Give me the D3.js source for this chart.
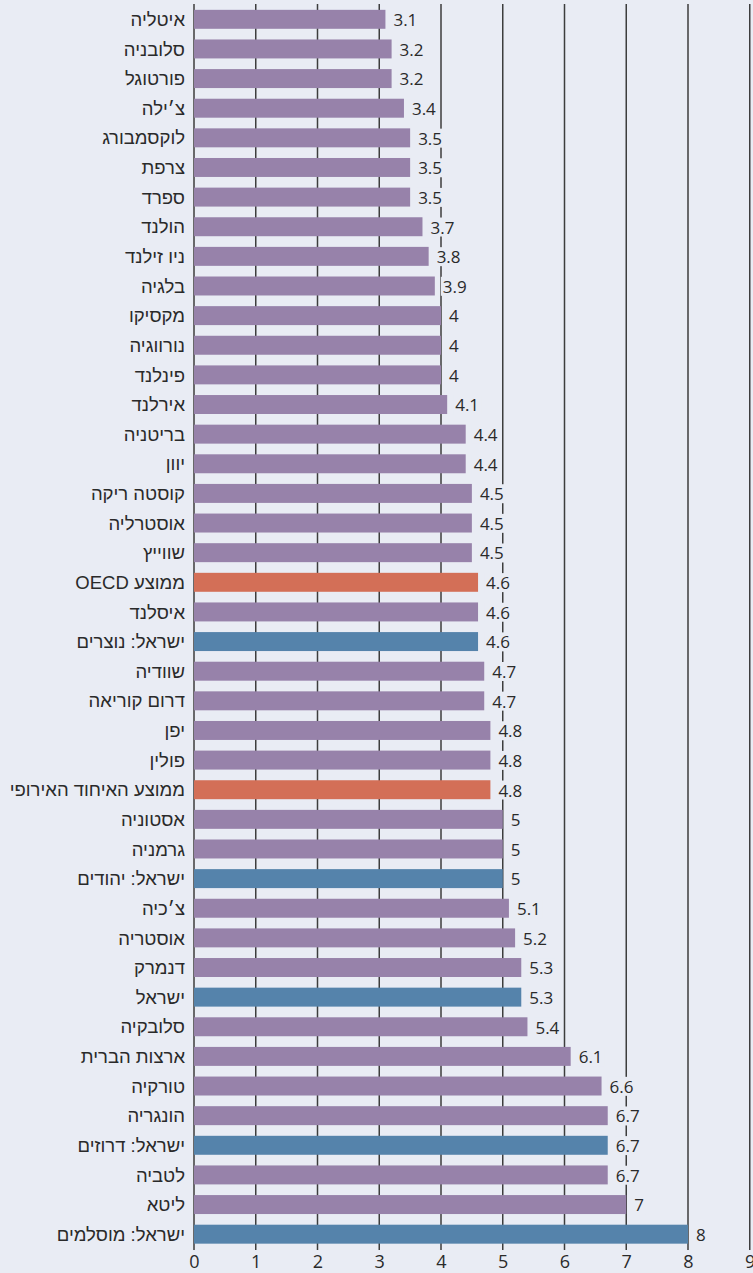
<!DOCTYPE html>
<html>
<head>
<meta charset="utf-8">
<script src="https://cdn.jsdelivr.net/npm/d3@7"></script>
<style>
  html, body { margin: 0; padding: 0; background: #e9ecf4; }
  svg { display: block; }
  .cat { font-family: "Liberation Sans", Arial, sans-serif; font-size: 18.5px; fill: #2a2a2a; }
  .val { font-family: "Open Sans", "Liberation Sans", sans-serif; font-size: 17px; fill: #2a2a2a; }
  .tick text { font-family: "Open Sans", "Liberation Sans", sans-serif; font-size: 18px; fill: #2a2a2a; }
</style>
</head>
<body>
<svg id="chart"></svg>
<script>
var width = 753;
var height = 1273;

var categories = ["איטליה", "סלובניה", "פורטוגל", "צ׳ילה", "לוקסמבורג", "צרפת", "ספרד", "הולנד",
  "ניו זילנד", "בלגיה", "מקסיקו", "נורווגיה", "פינלנד", "אירלנד", "בריטניה", "יוון",
  "קוסטה ריקה", "אוסטרליה", "שווייץ", "ממוצע OECD", "איסלנד", "ישראל: נוצרים", "שוודיה",
  "דרום קוריאה", "יפן", "פולין", "ממוצע האיחוד האירופי", "אסטוניה", "גרמניה", "ישראל: יהודים",
  "צ׳כיה", "אוסטריה", "דנמרק", "ישראל", "סלובקיה", "ארצות הברית", "טורקיה", "הונגריה",
  "ישראל: דרוזים", "לטביה", "ליטא", "ישראל: מוסלמים"];
var values = [3.1, 3.2, 3.2, 3.4, 3.5, 3.5, 3.5, 3.7, 3.8, 3.9, 4, 4, 4, 4.1, 4.4, 4.4,
  4.5, 4.5, 4.5, 4.6, 4.6, 4.6, 4.7, 4.7, 4.8, 4.8, 4.8, 5, 5, 5,
  5.1, 5.2, 5.3, 5.3, 5.4, 6.1, 6.6, 6.7, 6.7, 6.7, 7, 8];
// "c" = country, "a" = average, "i" = israel
var groups = ["c","c","c","c","c","c","c","c","c","c","c","c","c","c","c","c",
  "c","c","c","a","c","i","c","c","c","c","a","c","c","i",
  "c","c","c","i","c","c","c","c","i","c","c","i"];
var xTicks = [0, 1, 2, 3, 4, 5, 6, 7, 8, 9];

var colors = { c: "#9782aa", a: "#d36f57", i: "#5583ab" };
var bg = "#e9ecf4";

var svg = d3.select("#chart").attr("width", width).attr("height", height);
svg.append("rect").attr("width", width).attr("height", height).attr("fill", bg);

var x = d3.scaleLinear().domain([0, 9]).range([194, 749.75]);
var y = d3.scaleBand().domain(categories).range([4.5, 1249]).paddingInner(0.36).paddingOuter(0.18);

// grid lines
svg.append("g").selectAll("line").data(xTicks).enter().append("line")
  .attr("x1", function(d) { return x(d); })
  .attr("x2", function(d) { return x(d); })
  .attr("y1", 4)
  .attr("y2", 1250)
  .attr("stroke", "#3d3d3d")
  .attr("stroke-width", 1.5);

// axis labels
var xAxis = d3.axisBottom(x).tickValues(xTicks).tickSize(0).tickPadding(5).tickFormat(d3.format("d"));
var ax = svg.append("g").attr("transform", "translate(0,1250)").call(xAxis);
ax.select(".domain").remove();

// bars
svg.append("g").selectAll("rect").data(values).enter().append("rect")
  .attr("x", x(0))
  .attr("y", function(d, i) { return y(categories[i]); })
  .attr("width", function(d) { return x(d) - x(0); })
  .attr("height", y.bandwidth())
  .attr("fill", function(d, i) { return colors[groups[i]]; });

// category labels (rtl embedding)
svg.append("g").selectAll("text").data(categories).enter().append("text")
  .attr("class", "cat")
  .attr("x", 185)
  .attr("y", function(d) { return y(d) + y.bandwidth() / 2; })
  .attr("dy", "0.36em")
  .attr("text-anchor", "end")
  .text(function(d) { return "\u202B" + d + "\u202C"; });

// value labels with background
var vg = svg.append("g").selectAll("g").data(values).enter().append("g");
vg.append("rect").attr("fill", bg);
vg.append("text")
  .attr("class", "val")
  .attr("x", function(d) { return x(d) + 8; })
  .attr("y", function(d, i) { return y(categories[i]) + y.bandwidth() / 2; })
  .attr("dy", "0.4em")
  .text(function(d) { return String(d); });
vg.each(function() {
  var g = d3.select(this);
  var b = g.select("text").node().getBBox();
  g.select("rect").attr("x", b.x - 2).attr("y", b.y + 2).attr("width", b.width + 4).attr("height", b.height - 4);
});
</script>
</body>
</html>
